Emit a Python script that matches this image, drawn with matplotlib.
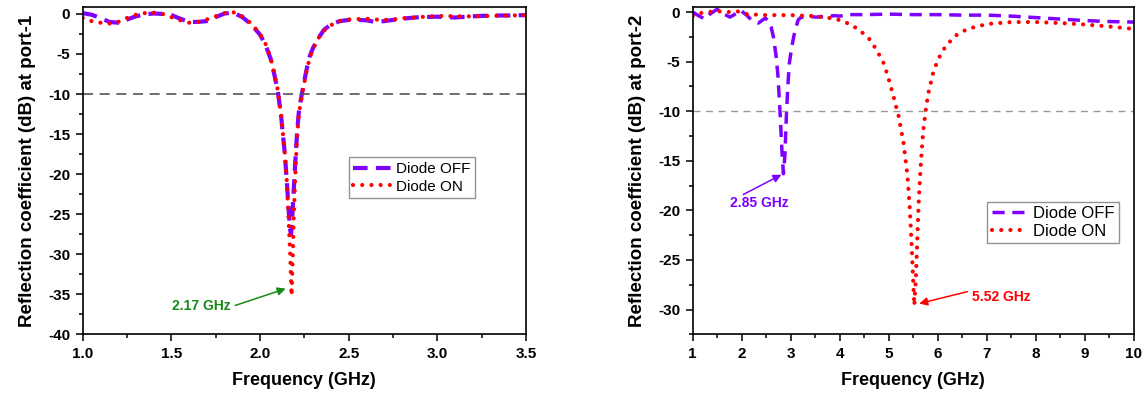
import numpy as np
import matplotlib
matplotlib.use('Agg')
import matplotlib.pyplot as plt
from matplotlib.ticker import MultipleLocator, FormatStrFormatter

plt.rcParams['font.family'] = ['Liberation Sans', 'DejaVu Sans']
plt.rcParams['axes.unicode_minus'] = False

# port-1 data (GHz, dB)
f1_off = [1.00, 1.05, 1.10, 1.15, 1.20, 1.25, 1.30, 1.35, 1.40, 1.45, 1.50, 1.55, 1.60, 1.65,
          1.70, 1.75, 1.80, 1.85, 1.90, 1.95, 2.00, 2.03, 2.06, 2.08, 2.10, 2.12, 2.14, 2.15,
          2.16, 2.17, 2.175, 2.18, 2.19, 2.20, 2.21, 2.22, 2.24, 2.26, 2.28, 2.30, 2.33, 2.36,
          2.40, 2.45, 2.50, 2.55, 2.60, 2.65, 2.70, 2.75, 2.80, 2.90, 3.00, 3.10, 3.20, 3.30,
          3.40, 3.50]
s1_off = [0.1, -0.1, -0.5, -1.0, -1.1, -0.7, -0.3, -0.05, 0.05, 0.0, -0.15, -0.6, -1.0, -1.0,
          -0.9, -0.4, 0.05, 0.15, -0.4, -1.3, -2.6, -3.8, -5.6, -7.5, -9.6, -13.0, -17.5, -20.5,
          -24.0, -27.0, -27.5, -26.0, -22.0, -18.0, -14.5, -12.0, -9.5, -7.2, -5.3, -4.2, -3.0, -2.0,
          -1.3, -0.9, -0.75, -0.75, -0.8, -1.0, -0.9, -0.75, -0.6, -0.4, -0.35, -0.45, -0.3, -0.2,
          -0.2, -0.15]

f1_on = [1.00, 1.05, 1.10, 1.15, 1.20, 1.25, 1.30, 1.35, 1.40, 1.45, 1.50, 1.55, 1.60, 1.65,
         1.70, 1.75, 1.80, 1.85, 1.90, 1.95, 2.00, 2.03, 2.06, 2.08, 2.10, 2.12, 2.14, 2.15,
         2.16, 2.17, 2.178, 2.185, 2.19, 2.20, 2.21, 2.22, 2.24, 2.26, 2.28, 2.30, 2.33, 2.36,
         2.40, 2.45, 2.50, 2.55, 2.60, 2.65, 2.70, 2.75, 2.80, 2.90, 3.00, 3.10, 3.20, 3.30,
         3.40, 3.50]
s1_on = [-0.5, -0.9, -1.1, -1.2, -1.0, -0.5, -0.1, 0.1, 0.15, 0.0, -0.4, -0.8, -1.1, -1.0,
         -0.7, -0.3, 0.1, 0.2, -0.3, -1.2, -2.5, -3.7, -5.5, -7.4, -9.5, -12.8, -17.5, -20.5,
         -25.0, -30.0, -35.2, -30.0, -25.5, -19.5, -15.0, -12.3, -9.8, -7.4, -5.5, -4.3, -3.0, -2.1,
         -1.4, -0.9, -0.7, -0.65, -0.6, -0.7, -0.75, -0.7, -0.55, -0.4, -0.25, -0.3, -0.3, -0.25,
         -0.2, -0.15]

# port-2 data (GHz, dB)
f2_off = [1.0, 1.1, 1.25, 1.35, 1.5, 1.6, 1.76, 1.9, 1.97, 2.1, 2.2, 2.34, 2.48, 2.55,
          2.6, 2.65, 2.7, 2.74, 2.78, 2.82, 2.85, 2.88, 2.91, 2.94, 2.97, 3.02, 3.08, 3.15,
          3.2, 3.35, 3.5, 3.7, 3.9, 4.0, 4.2, 4.5, 5.0, 5.5, 6.0, 6.5, 7.0, 7.5, 8.0, 8.5,
          9.0, 9.5, 10.0]
s2_off = [0.0, -0.3, -0.7, -0.2, 0.3, -0.1, -0.5, -0.1, 0.2, -0.3, -0.8, -1.1, -0.6, -0.9,
          -1.5, -2.6, -4.4, -6.5, -10.0, -14.0, -16.3, -14.5, -10.5, -7.5, -5.2, -3.5, -2.0, -0.8,
          -0.55, -0.4, -0.5, -0.45, -0.35, -0.4, -0.25, -0.25, -0.2, -0.25, -0.25, -0.3, -0.3, -0.4,
          -0.55, -0.7, -0.85, -0.95, -1.0]

f2_on = [1.0, 1.15, 1.3, 1.5, 1.7, 1.9, 2.1, 2.5, 3.0, 3.5, 3.75, 4.0, 4.2, 4.4, 4.6, 4.75,
         4.9, 5.0, 5.1, 5.2, 5.3, 5.38, 5.43, 5.47, 5.5, 5.52, 5.55, 5.58, 5.61, 5.65, 5.7,
         5.75, 5.8, 5.9, 6.0, 6.15, 6.35, 6.6, 7.0, 7.5, 8.0, 8.5, 9.0, 9.5, 10.0]
s2_on = [-0.4, -0.1, 0.0, 0.1, 0.0, 0.1, -0.2, -0.3, -0.3, -0.4, -0.55, -0.8, -1.2, -1.8, -2.7, -3.8,
         -5.2, -6.8, -8.6, -10.5, -13.2, -16.5, -20.0, -24.0, -27.5, -29.6, -27.0, -23.0, -19.0, -15.5, -12.0,
         -10.0, -8.3, -6.2, -4.8, -3.5, -2.4, -1.7, -1.2, -1.0, -1.0, -1.1, -1.25, -1.45, -1.7]

off_color = '#8000ff'
on_color = '#ff0000'
green = '#158a15'

fig = plt.figure(figsize=(11.46, 3.96), dpi=100)
W, H = 1146, 396
ax1 = fig.add_axes([82.7 / W, 1 - 334.3 / H, (526 - 82.7) / W, (334.3 - 6.7) / H])
ax2 = fig.add_axes([692.7 / W, 1 - 334.3 / H, (1134 - 692.7) / W, (334.3 - 6.7) / H])


def style_axes(ax):
    for sp in ax.spines.values():
        sp.set_linewidth(1.2)
    ax.tick_params(which='major', direction='out', length=5, width=1.1, labelsize=11, pad=4)
    ax.tick_params(which='minor', direction='out', length=3, width=1.1)
    for lab in ax.get_xticklabels() + ax.get_yticklabels():
        lab.set_fontweight('bold')


def arrow(ax, start, end, color):
    ax.annotate('', xy=end, xytext=start,
                arrowprops=dict(arrowstyle='-|>', color=color, lw=1.1, shrinkA=0, shrinkB=0,
                                mutation_scale=12))


# ---- left panel ----
ax1.plot(f1_off, s1_off, color=off_color, lw=3, linestyle=(0, (3.5, 2)), label='Diode OFF')
ax1.plot(f1_on, s1_on, color=on_color, lw=3, linestyle=(0, (0.01, 2.2)),
         dash_capstyle='round', label='Diode ON')
ax1.axhline(-10, color='#555555', lw=1.2, linestyle=(0, (6, 4)))
ax1.set_xlim(1.0, 3.5)
ax1.set_ylim(-40, 0.9)
ax1.xaxis.set_major_locator(MultipleLocator(0.5))
ax1.xaxis.set_minor_locator(MultipleLocator(0.25))
ax1.yaxis.set_major_locator(MultipleLocator(5))
ax1.yaxis.set_minor_locator(MultipleLocator(2.5))
ax1.xaxis.set_major_formatter(FormatStrFormatter('%.1f'))
ax1.set_xlabel('Frequency (GHz)', fontsize=13, fontweight='bold', labelpad=8)
ax1.set_ylabel('Reflection coefficient (dB) at port-1', fontsize=13.5, fontweight='bold', labelpad=9)
style_axes(ax1)
leg1 = ax1.legend(loc='upper left', bbox_to_anchor=(0.6, 0.54), fontsize=11, frameon=True,
                  fancybox=False, edgecolor='#777777', handlelength=2.7, handletextpad=0.1,
                  borderpad=0.3, labelspacing=0.25, borderaxespad=0)
leg1.get_frame().set_linewidth(1.0)
ax1.text(1.67, -36.5, '2.17 GHz', color=green, fontsize=10, fontweight='bold',
         ha='center', va='center')
arrow(ax1, (1.86, -36.4), (2.145, -34.3), green)

# ---- right panel ----
ax2.plot(f2_off, s2_off, color=off_color, lw=2.5, linestyle=(0, (3.5, 2.2)), label='Diode OFF')
ax2.plot(f2_on, s2_on, color=on_color, lw=3, linestyle=(0, (0.01, 2.2)),
         dash_capstyle='round', label='Diode ON')
ax2.axhline(-10, color='#999999', lw=1.0, linestyle=(0, (5, 4)))
ax2.set_xlim(1, 10)
ax2.set_ylim(-32.5, 0.55)
ax2.xaxis.set_major_locator(MultipleLocator(1))
ax2.xaxis.set_minor_locator(MultipleLocator(0.5))
ax2.yaxis.set_major_locator(MultipleLocator(5))
ax2.yaxis.set_minor_locator(MultipleLocator(2.5))
ax2.set_xlabel('Frequency (GHz)', fontsize=13, fontweight='bold', labelpad=8)
ax2.set_ylabel('Reflection coefficient (dB) at port-2', fontsize=13.5, fontweight='bold', labelpad=9)
style_axes(ax2)
leg2 = ax2.legend(loc='upper left', bbox_to_anchor=(0.668, 0.405), fontsize=12, frameon=True,
                  fancybox=False, edgecolor='#777777', handlelength=2.1, handletextpad=0.4,
                  borderpad=0.25, labelspacing=0.2, borderaxespad=0)
leg2.get_frame().set_linewidth(1.0)
ax2.text(2.36, -19.3, '2.85 GHz', color=off_color, fontsize=10, fontweight='bold',
         ha='center', va='center')
arrow(ax2, (2.03, -18.4), (2.81, -16.4), off_color)
ax2.text(7.3, -28.7, '5.52 GHz', color=on_color, fontsize=10, fontweight='bold',
         ha='center', va='center')
arrow(ax2, (6.6, -28.2), (5.62, -29.4), on_color)

fig.savefig('out.png', dpi=100)
